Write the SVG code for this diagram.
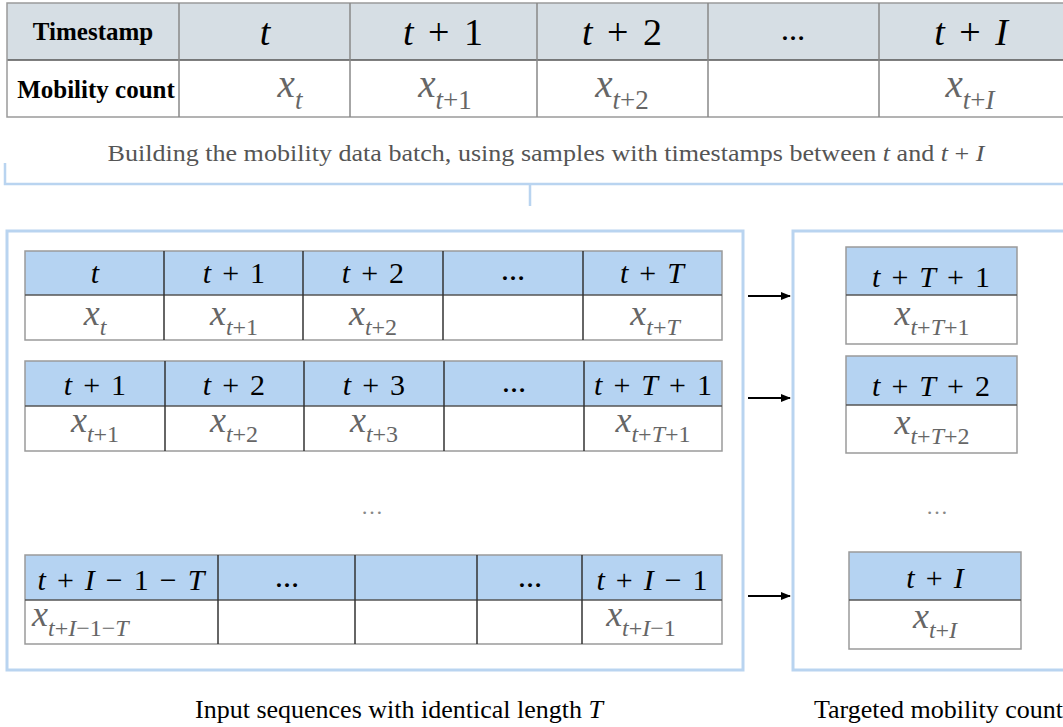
<svg xmlns="http://www.w3.org/2000/svg" width="1063" height="727" viewBox="0 0 1063 727">
<defs>
<marker id="ah" markerWidth="10" markerHeight="8" refX="9" refY="4" orient="auto" markerUnits="userSpaceOnUse">
<path d="M0,0 L10,4 L0,8 Z" fill="#000"/>
</marker>
</defs>
<style>
text{font-family:"Liberation Serif","Times New Roman",serif;}
.thd{fill:#d6dee4;}
.phd{fill:#b5d3f2;}
.cell{fill:#fff;}
.ob{fill:none;stroke:#9a9a9a;stroke-width:1.5;}
.dv{stroke:#555;stroke-width:1.5;}
.vd{stroke:#333;stroke-width:1.5;}
.panel{fill:none;stroke:#b9d4f0;stroke-width:3;}
.br{fill:none;stroke:#b9d4f0;stroke-width:2.5;}
.bold{font-weight:bold;font-size:25px;fill:#000;}
.m1{font-size:38px;fill:#000;text-anchor:middle;word-spacing:5px;}
.m2{font-size:30px;fill:#000;text-anchor:middle;word-spacing:3.5px;}
.i{font-style:italic;}
.xv1{font-size:39px;fill:#666;text-anchor:middle;}
.xv2{font-size:36px;fill:#666;text-anchor:middle;}
.s1{font-size:27px;}
.s2{font-size:24px;}
.st{text-anchor:start;}
.dots{font-size:24px;font-weight:bold;fill:#000;text-anchor:middle;}
.gdots{font-size:22px;fill:#888;text-anchor:middle;letter-spacing:2px;}
.cap{font-size:22.5px;fill:#555;text-anchor:middle;}
.lbl{font-size:26px;fill:#000;}
.arr{stroke:#000;stroke-width:2;fill:none;}
</style>

<g id="top-table">
<rect class="thd" x="7" y="3" width="1063" height="57"/>
<rect class="cell" x="7" y="60" width="1063" height="57"/>
<line class="dv" x1="7" y1="60" x2="1063" y2="60" stroke="#888"/>
<rect class="ob" x="7" y="3" width="1070" height="114"/>
<g stroke="#888" stroke-width="1.5">
<line x1="179" y1="3" x2="179" y2="117"/>
<line x1="350" y1="3" x2="350" y2="117"/>
<line x1="537" y1="3" x2="537" y2="117"/>
<line x1="708" y1="3" x2="708" y2="117"/>
<line x1="879" y1="3" x2="879" y2="117"/>
</g>
<text class="bold" x="93" y="40" text-anchor="middle">Timestamp</text>
<text class="bold" x="96" y="98" text-anchor="middle" font-size="26px">Mobility count</text>
<text class="m1" x="265" y="45"><tspan class="i">t</tspan></text>
<text class="m1" x="443" y="45" xml:space="preserve"><tspan class="i">t</tspan> + 1</text>
<text class="m1" x="622" y="45" xml:space="preserve"><tspan class="i">t</tspan> + 2</text>
<text class="dots" x="793" y="40">…</text>
<text class="m1" x="971" y="45" xml:space="preserve"><tspan class="i">t</tspan> + <tspan class="i">I</tspan></text>
<text class="xv1" x="290" y="97"><tspan class="i">x</tspan><tspan class="s1 i" dy="12">t</tspan></text>
<text class="xv1" x="445" y="97"><tspan class="i">x</tspan><tspan class="s1" dy="12"><tspan class="i">t</tspan>+1</tspan></text>
<text class="xv1" x="622" y="97"><tspan class="i">x</tspan><tspan class="s1" dy="12"><tspan class="i">t</tspan>+2</tspan></text>
<text class="xv1" x="970" y="97"><tspan class="i">x</tspan><tspan class="s1" dy="12"><tspan class="i">t</tspan>+<tspan class="i">I</tspan></tspan></text>
</g>

<g id="caption">
<text class="cap" x="546" y="161" textLength="877" lengthAdjust="spacingAndGlyphs">Building the mobility data batch, using samples with timestamps between <tspan class="i">t</tspan> and <tspan class="i">t</tspan> + <tspan class="i">I</tspan></text>
</g>

<g id="bracket">
<path class="br" d="M5,163 V184 H1063 M530,184 V206"/>
</g>

<g id="input-panel">
<rect class="panel" x="7" y="231" width="736" height="439"/>
</g>

<g id="target-panel">
<rect class="panel" x="793" y="231" width="290" height="439"/>
</g>

<g id="seq1">
<rect class="phd" x="25" y="251" width="697" height="44"/>
<rect class="cell" x="25" y="295" width="697" height="45"/>
<rect class="ob" x="25" y="251" width="697" height="89"/>
<line class="dv" x1="25" y1="295" x2="722" y2="295"/>
<line class="vd" x1="164" y1="251" x2="164" y2="340" stroke="#111"/>
<line class="vd" x1="303" y1="251" x2="303" y2="340"/>
<line class="vd" x1="443" y1="251" x2="443" y2="340"/>
<line class="vd" x1="583" y1="251" x2="583" y2="340"/>
<text class="m2" x="95" y="283"><tspan class="i">t</tspan></text>
<text class="m2" x="234" y="283" xml:space="preserve"><tspan class="i">t</tspan> + 1</text>
<text class="m2" x="373" y="283" xml:space="preserve"><tspan class="i">t</tspan> + 2</text>
<text class="dots" x="513" y="280">…</text>
<text class="m2" x="652" y="283" xml:space="preserve"><tspan class="i">t</tspan> + <tspan class="i">T</tspan></text>
<text class="xv2" x="95" y="325"><tspan class="i">x</tspan><tspan class="s2 i" dy="10">t</tspan></text>
<text class="xv2" x="234" y="325"><tspan class="i">x</tspan><tspan class="s2" dy="10"><tspan class="i">t</tspan>+1</tspan></text>
<text class="xv2" x="373" y="325"><tspan class="i">x</tspan><tspan class="s2" dy="10"><tspan class="i">t</tspan>+2</tspan></text>
<text class="xv2" x="655" y="325"><tspan class="i">x</tspan><tspan class="s2" dy="10"><tspan class="i">t</tspan>+<tspan class="i">T</tspan></tspan></text>
</g>

<g id="seq2">
<rect class="phd" x="25" y="361" width="697" height="45"/>
<rect class="cell" x="25" y="406" width="697" height="45"/>
<rect class="ob" x="25" y="361" width="697" height="90"/>
<line class="dv" x1="25" y1="406" x2="722" y2="406"/>
<line class="vd" x1="165" y1="361" x2="165" y2="451" stroke="#111"/>
<line class="vd" x1="304" y1="361" x2="304" y2="451"/>
<line class="vd" x1="444" y1="361" x2="444" y2="451"/>
<line class="vd" x1="584" y1="361" x2="584" y2="451"/>
<text class="m2" x="95" y="395" xml:space="preserve"><tspan class="i">t</tspan> + 1</text>
<text class="m2" x="234" y="395" xml:space="preserve"><tspan class="i">t</tspan> + 2</text>
<text class="m2" x="374" y="395" xml:space="preserve"><tspan class="i">t</tspan> + 3</text>
<text class="dots" x="514" y="392">…</text>
<text class="m2" x="653" y="395" xml:space="preserve"><tspan class="i">t</tspan> + <tspan class="i">T</tspan> + 1</text>
<text class="xv2" x="95" y="432"><tspan class="i">x</tspan><tspan class="s2" dy="10"><tspan class="i">t</tspan>+1</tspan></text>
<text class="xv2" x="234" y="432"><tspan class="i">x</tspan><tspan class="s2" dy="10"><tspan class="i">t</tspan>+2</tspan></text>
<text class="xv2" x="374" y="432"><tspan class="i">x</tspan><tspan class="s2" dy="10"><tspan class="i">t</tspan>+3</tspan></text>
<text class="xv2" x="653" y="432"><tspan class="i">x</tspan><tspan class="s2" dy="10"><tspan class="i">t</tspan>+<tspan class="i">T</tspan>+1</tspan></text>
</g>

<g id="seq-dots">
<text class="gdots" x="373" y="514">…</text>
</g>

<g id="seq3">
<rect class="phd" x="25" y="555" width="697" height="45"/>
<rect class="cell" x="25" y="600" width="697" height="44"/>
<rect class="ob" x="25" y="555" width="697" height="89"/>
<line class="dv" x1="25" y1="600" x2="722" y2="600"/>
<line class="vd" x1="218" y1="555" x2="218" y2="644" stroke="#111"/>
<line class="vd" x1="355" y1="555" x2="355" y2="644"/>
<line class="vd" x1="477" y1="555" x2="477" y2="644"/>
<line class="vd" x1="582" y1="555" x2="582" y2="644"/>
<text class="m2" x="121" y="590" xml:space="preserve"><tspan class="i">t</tspan> + <tspan class="i">I</tspan> − 1 − <tspan class="i">T</tspan></text>
<text class="dots" x="287" y="587">…</text>
<text class="dots" x="530" y="587">…</text>
<text class="m2" x="652" y="590" xml:space="preserve"><tspan class="i">t</tspan> + <tspan class="i">I</tspan> − 1</text>
<text class="xv2 st" x="32" y="626"><tspan class="i">x</tspan><tspan class="s2" dy="10"><tspan class="i">t</tspan>+<tspan class="i">I</tspan>−1−<tspan class="i">T</tspan></tspan></text>
<text class="xv2" x="641" y="626"><tspan class="i">x</tspan><tspan class="s2" dy="10"><tspan class="i">t</tspan>+<tspan class="i">I</tspan>−1</tspan></text>
</g>

<g id="target1">
<rect class="phd" x="846" y="247" width="171" height="48"/>
<rect class="cell" x="846" y="295" width="171" height="49"/>
<rect class="ob" x="846" y="247" width="171" height="97" stroke="#666"/>
<line class="dv" x1="846" y1="295" x2="1017" y2="295" stroke="#333"/>
<text class="m2" x="931" y="287" xml:space="preserve"><tspan class="i">t</tspan> + <tspan class="i">T</tspan> + 1</text>
<text class="xv2" x="932" y="325"><tspan class="i">x</tspan><tspan class="s2" dy="10"><tspan class="i">t</tspan>+<tspan class="i">T</tspan>+1</tspan></text>
</g>

<g id="target2">
<rect class="phd" x="846" y="356" width="171" height="49"/>
<rect class="cell" x="846" y="405" width="171" height="48"/>
<rect class="ob" x="846" y="356" width="171" height="97" stroke="#666"/>
<line class="dv" x1="846" y1="405" x2="1017" y2="405" stroke="#333"/>
<text class="m2" x="931" y="396" xml:space="preserve"><tspan class="i">t</tspan> + <tspan class="i">T</tspan> + 2</text>
<text class="xv2" x="932" y="434"><tspan class="i">x</tspan><tspan class="s2" dy="10"><tspan class="i">t</tspan>+<tspan class="i">T</tspan>+2</tspan></text>
</g>

<g id="target-dots">
<text class="gdots" x="938" y="514">…</text>
</g>

<g id="target3">
<rect class="phd" x="849" y="552" width="172" height="48"/>
<rect class="cell" x="849" y="600" width="172" height="49"/>
<rect class="ob" x="849" y="552" width="172" height="97" stroke="#666"/>
<line class="dv" x1="849" y1="600" x2="1021" y2="600" stroke="#333"/>
<text class="m2" x="935" y="588" xml:space="preserve"><tspan class="i">t</tspan> + <tspan class="i">I</tspan></text>
<text class="xv2" x="935" y="628"><tspan class="i">x</tspan><tspan class="s2" dy="10"><tspan class="i">t</tspan>+<tspan class="i">I</tspan></tspan></text>
</g>

<g id="connectors">
<line class="arr" x1="748" y1="296" x2="790" y2="296" marker-end="url(#ah)"/>
<line class="arr" x1="748" y1="398" x2="790" y2="398" marker-end="url(#ah)"/>
<line class="arr" x1="748" y1="596" x2="790" y2="596" marker-end="url(#ah)"/>
</g>

<g id="labels">
<text class="lbl" x="195" y="718">Input sequences with identical length <tspan class="i">T</tspan></text>
<text class="lbl" x="814" y="718">Targeted mobility count</text>
</g>
</svg>
